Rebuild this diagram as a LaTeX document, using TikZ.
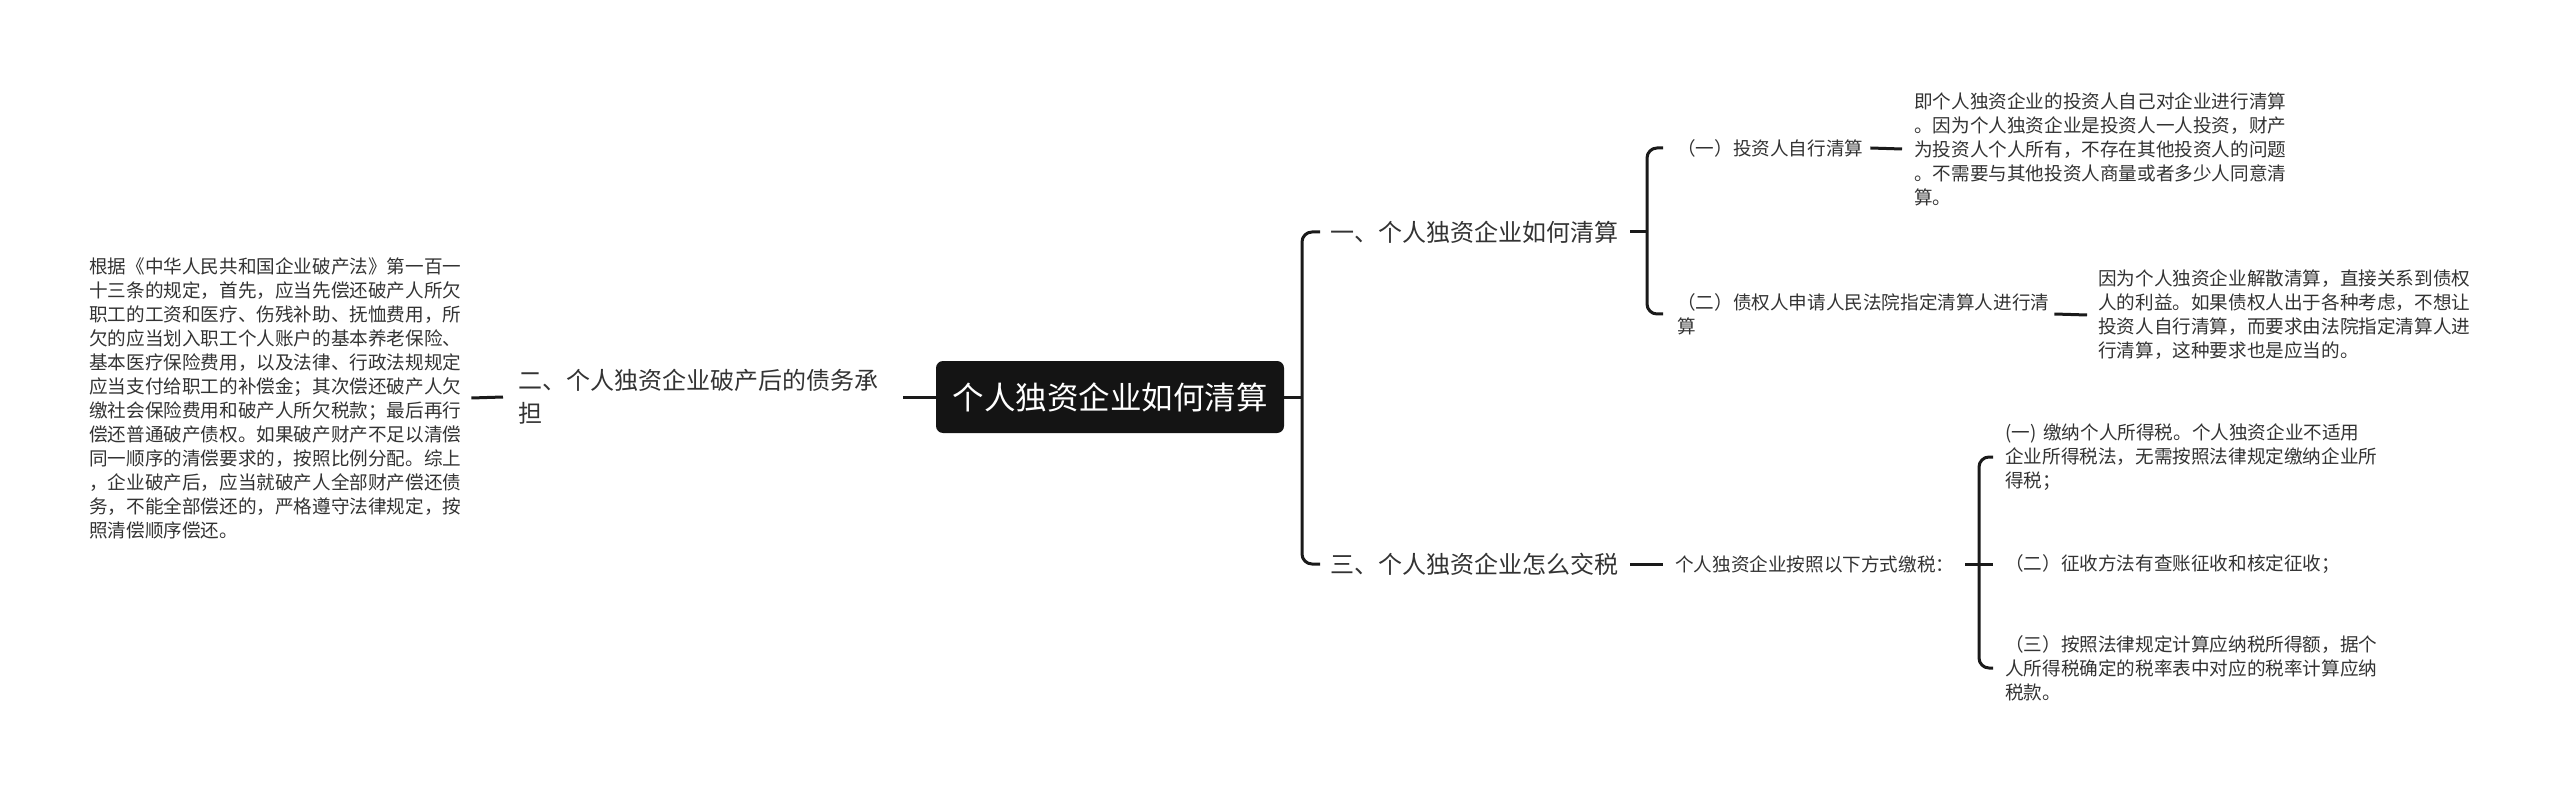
\documentclass[tikz,border=0pt]{standalone}
\usepackage{fontspec}
\newfontfamily\cjk{Noto Sans CJK SC}
\definecolor{txt}{HTML}{333333}
\definecolor{ln}{HTML}{1A1A1A}
\definecolor{rootfill}{HTML}{141414}
\tikzset{
  small/.style={font=\cjk\fontsize{18.6}{24}\selectfont, text=txt, align=left, inner sep=0pt, anchor=west},
  mid/.style={font=\cjk\fontsize{24}{33}\selectfont, text=txt, align=left, inner sep=0pt, anchor=west},
  rootbox/.style={font=\cjk\fontsize{31.5}{36}\selectfont, text=white, fill=rootfill, rounded corners=7pt, minimum width=348pt, minimum height=72pt, inner sep=0pt},
  conn/.style={draw=ln, line width=3pt},
  brace/.style={draw=ln, line width=3pt, rounded corners=10pt}
}
\begin{document}
\begin{tikzpicture}[x=1pt,y=-1pt]
\useasboundingbox (0,0) rectangle (2560,794);
% root
\node[rootbox] (root) at (1110,397) {个人独资企业如何清算};
% left side
\node[mid] (er) at (518,397) {二、个人独资企业破产后的债务承\\担};
\node[small] (L) at (89,398) {根据《中华人民共和国企业破产法》第一百一\\十三条的规定，首先，应当先偿还破产人所欠\\职工的工资和医疗、伤残补助、抚恤费用，所\\欠的应当划入职工个人账户的基本养老保险、\\基本医疗保险费用，以及法律、行政法规规定\\应当支付给职工的补偿金；其次偿还破产人欠\\缴社会保险费用和破产人所欠税款；最后再行\\偿还普通破产债权。如果破产财产不足以清偿\\同一顺序的清偿要求的，按照比例分配。综上\\，企业破产后，应当就破产人全部财产偿还债\\务，不能全部偿还的，严格遵守法律规定，按\\照清偿顺序偿还。};
\draw[conn] (root.west) -- ([xshift=25pt]er.east);
\draw[conn] ([xshift=-15pt]er.west) -- ([xshift=10pt]L.east);
% right side level 1
\node[mid] (yi) at (1330,232) {一、个人独资企业如何清算};
\node[mid] (san) at (1330,564) {三、个人独资企业怎么交税};
\coordinate (b1) at (1302,397);
\draw[conn] (root.east) -- (b1);
\draw[brace] ([xshift=-10pt]yi.west) -| (b1) |- ([xshift=-10pt]san.west);
% branch 一
\node[small] (a1) at (1677,148) {（一）投资人自行清算};
\node[small] (a2) at (1677,314) {（二）债权人申请人民法院指定清算人进行清\\算};
\coordinate (b2) at (1647,232);
\draw[conn] ([xshift=12pt]yi.east) -- (b2);
\draw[brace] ([xshift=-14pt]a1.west) -| (b2) |- ([xshift=-14pt]a2.west);
\node[small] (a1d) at (1914,149) {即个人独资企业的投资人自己对企业进行清算\\。因为个人独资企业是投资人一人投资，财产\\为投资人个人所有，不存在其他投资人的问题\\。不需要与其他投资人商量或者多少人同意清\\算。};
\node[small] (a2d) at (2098,315) {因为个人独资企业解散清算，直接关系到债权\\人的利益。如果债权人出于各种考虑，不想让\\投资人自行清算，而要求由法院指定清算人进\\行清算，这种要求也是应当的。};
\draw[conn] ([xshift=7pt]a1.east) -- ([xshift=-12pt]a1d.west);
\draw[conn] ([xshift=5pt]a2.east) -- ([xshift=-11pt]a2d.west);
% branch 三
\node[small] (tax) at (1675,564) {个人独资企业按照以下方式缴税：};
\draw[conn] ([xshift=12pt]san.east) -- ([xshift=-12pt]tax.west);
\node[small] (t1) at (2005,457) {(一)\hspace{7pt}缴纳个人所得税。个人独资企业不适用\\企业所得税法，无需按照法律规定缴纳企业所\\得税；};
\node[small] (t2) at (2005,564) {（二）征收方法有查账征收和核定征收；};
\node[small] (t3) at (2005,668) {（三）按照法律规定计算应纳税所得额，据个\\人所得税确定的税率表中对应的税率计算应纳\\税款。};
\coordinate (b3) at (1979,564);
\draw[conn] ([xshift=11pt]tax.east) -- ([xshift=-12pt]t2.west);
\draw[brace] ([xshift=-12pt]t1.west) -| (b3) |- ([xshift=-12pt]t3.west);
\end{tikzpicture}
\end{document}
